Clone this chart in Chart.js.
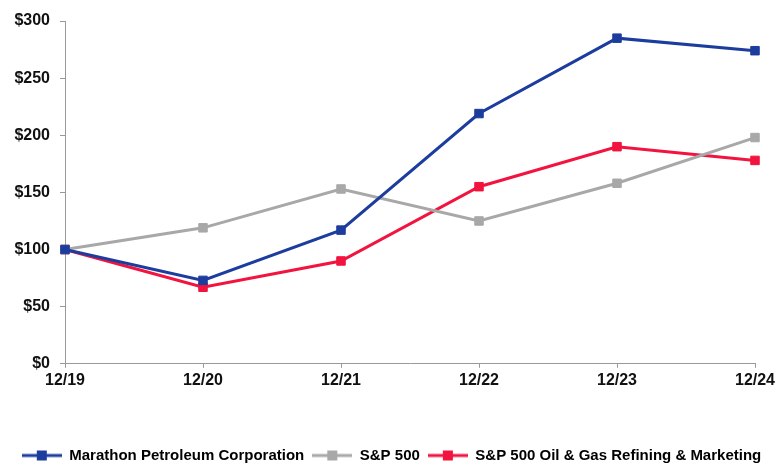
<!DOCTYPE html>
<html>
<head>
<meta charset="utf-8">
<script src="https://cdn.jsdelivr.net/npm/chart.js@4.4.1/dist/chart.umd.min.js"></script>
<style>
  html, body { margin: 0; padding: 0; background: #fff; }
  #wrap { width: 783px; height: 473px; }
</style>
</head>
<body>
<div id="wrap"><canvas id="chartReturns"></canvas></div>
<script>
var years = ['12/19', '12/20', '12/21', '12/22', '12/23', '12/24']
var mpc = [100, 73, 117, 219, 285, 274]
var sp500 = [100, 119, 153, 125, 158, 198]
var refining = [100, 67, 90, 155, 190, 178]
var yTicks = [0, 50, 100, 150, 200, 250, 300]

var blue = '#1c3d9e'
var grey = '#a8a8a8'
var red = '#f2133f'

// little line-with-square swatch for the legend
function legendSwatch(color) {
    var c = document.createElement('canvas')
    c.width = 40
    c.height = 12
    var g = c.getContext('2d')
    g.strokeStyle = color
    g.lineWidth = 3
    g.beginPath()
    g.moveTo(0, 6)
    g.lineTo(40, 6)
    g.stroke()
    g.fillStyle = color
    g.fillRect(15, 1, 10, 10)
    return c
}

function series(label, data, color) {
    return {
        label: label,
        data: data,
        borderColor: color,
        backgroundColor: color,
        borderWidth: 3,
        pointStyle: 'rect',
        pointRadius: 6,
        pointHoverRadius: 6,
        pointBorderWidth: 1,
        tension: 0,
        swatch: legendSwatch(color)
    }
}

const ctx = document.getElementById('chartReturns').getContext('2d');
var chartReturns = new Chart(ctx, {
    type: 'line',
    data: {
        labels: years,
        datasets: [
            series('Marathon Petroleum Corporation', mpc, blue),
            series('S&P 500', sp500, grey),
            series('S&P 500 Oil & Gas Refining & Marketing', refining, red)
        ]
    },
    options: {
        responsive: true,
        maintainAspectRatio: false,
        animation: false,
        layout: {
            padding: { left: 0, right: 0, top: 21, bottom: 0 }
        },
        plugins: {
            tooltip: { enabled: false },
            legend: {
                position: 'bottom',
                labels: {
                    usePointStyle: true,
                    pointStyleWidth: 40,
                    padding: 8,
                    color: '#111',
                    font: { family: 'Liberation Sans, Arial', weight: 'bold', size: 15 },
                    generateLabels: function(chart) {
                        return chart.data.datasets.map(function(ds, i) {
                            return {
                                text: ds.label,
                                fillStyle: ds.borderColor,
                                strokeStyle: ds.borderColor,
                                pointStyle: ds.swatch,
                                lineWidth: 0,
                                datasetIndex: i,
                                hidden: false
                            }
                        })
                    }
                }
            }
        },
        scales: {
            x: {
                offset: false,
                afterFit: function(scale) {
                    scale.height += 47
                },
                grid: { drawOnChartArea: false, drawTicks: true, tickLength: 4, color: '#999' },
                border: { display: true, color: '#999', width: 1 },
                ticks: {
                    color: '#111',
                    padding: 3,
                    maxRotation: 0,
                    font: { family: 'Liberation Sans, Arial', weight: 'bold', size: 16 }
                }
            },
            y: {
                min: 0,
                max: 300,
                afterBuildTicks: function(axis) {
                    axis.ticks = yTicks.map(function(v) { return { value: v } })
                },
                afterFit: function(scale) {
                    scale.width = 65
                },
                grid: { drawOnChartArea: false, drawTicks: true, tickLength: 5, color: '#999' },
                border: { display: true, color: '#999', width: 1 },
                ticks: {
                    color: '#111',
                    padding: 10,
                    font: { family: 'Liberation Sans, Arial', weight: 'bold', size: 16 },
                    callback: function(value) {
                        return '$' + value
                    }
                }
            },
            // empty right-hand axis, only keeps the right margin
            yRight: {
                position: 'right',
                display: true,
                grid: { display: false },
                border: { display: false },
                ticks: { display: false },
                afterFit: function(scale) {
                    scale.width = 28
                }
            }
        }
    }
});
</script>
</body>
</html>
